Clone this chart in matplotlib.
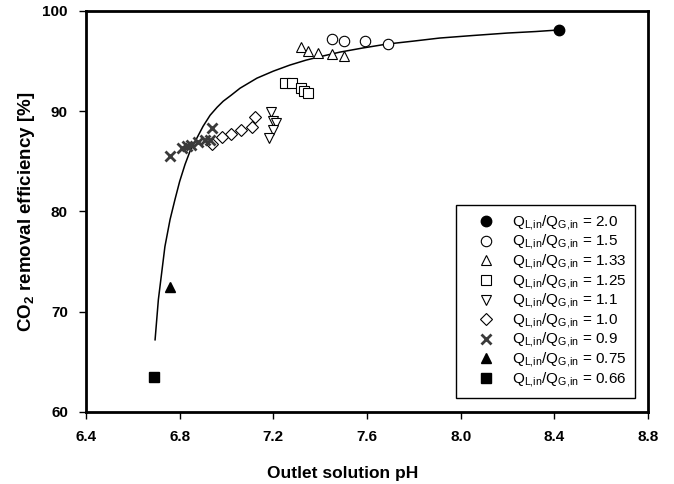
import numpy as np
import matplotlib.pyplot as plt

plt.rcParams['font.family'] = ['Liberation Sans', 'DejaVu Sans']
plt.rcParams['mathtext.fontset'] = 'custom'
plt.rcParams['mathtext.rm'] = 'Liberation Sans'
plt.rcParams['mathtext.bf'] = 'Liberation Sans:bold'

# dados
ph_20 = [8.42]
ef_20 = [98.1]
ph_15 = [7.45, 7.50, 7.59, 7.69]
ef_15 = [97.2, 97.0, 97.0, 96.7]
ph_133 = [7.32, 7.35, 7.39, 7.45, 7.50]
ef_133 = [96.4, 96.0, 95.8, 95.7, 95.5]
ph_125 = [7.25, 7.28, 7.32, 7.33, 7.35]
ef_125 = [92.85, 92.8, 92.3, 92.05, 91.85]
ph_11 = [7.19, 7.20, 7.21, 7.20, 7.18]
ef_11 = [89.9, 89.0, 88.8, 88.1, 87.3]
ph_10 = [7.12, 7.11, 7.06, 7.02, 6.98, 6.94]
ef_10 = [89.4, 88.4, 88.1, 87.7, 87.4, 86.7]
ph_09 = [6.76, 6.81, 6.83, 6.85, 6.88, 6.91, 6.93, 6.94]
ef_09 = [85.5, 86.3, 86.5, 86.6, 86.9, 87.1, 87.1, 88.3]
ph_075 = [6.76]
ef_075 = [72.5]
ph_066 = [6.69]
ef_066 = [63.5]

# curva de ajuste (pontos lidos ao longo da linha)
ph_fit = [6.695, 6.709, 6.723, 6.737, 6.759, 6.780, 6.80, 6.823, 6.844, 6.873,
          6.90, 6.93, 6.96, 6.986, 7.02, 7.058, 7.13, 7.20, 7.27, 7.34,
          7.41, 7.485, 7.58, 7.685, 7.80, 7.91, 8.05, 8.20, 8.32, 8.415]
ef_fit = [67.2, 71.2, 73.85, 76.5, 79.2, 81.2, 83.0, 84.7, 86.0, 87.3,
          88.5, 89.6, 90.4, 91.0, 91.6, 92.3, 93.3, 94.0, 94.6, 95.1,
          95.5, 95.9, 96.3, 96.7, 97.0, 97.3, 97.55, 97.8, 97.95, 98.1]

fig = plt.figure(figsize=(6.74, 4.84), dpi=100)
ax = fig.add_axes([0.1276, 0.1488, 0.8338, 0.8285])

ax.plot(ph_fit, ef_fit, color='black', lw=1.1, zorder=1)

lab = r'Q$_{\mathrm{L{,}in}}$/Q$_{\mathrm{G{,}in}}$ = '
ms = 7.5
ax.plot(ph_20, ef_20, 'o', ms=ms, mfc='black', mec='black', label=lab + '2.0')
ax.plot(ph_15, ef_15, 'o', ms=ms, mfc='white', mec='black', mew=0.8, label=lab + '1.5')
ax.plot(ph_133, ef_133, '^', ms=ms, mfc='white', mec='black', mew=0.8, label=lab + '1.33')
ax.plot(ph_125, ef_125, 's', ms=ms - 0.5, mfc='white', mec='black', mew=0.8, label=lab + '1.25')
ax.plot(ph_11, ef_11, 'v', ms=ms, mfc='white', mec='black', mew=0.8, label=lab + '1.1')
ax.plot(ph_10, ef_10, 'D', ms=ms - 1, mfc='white', mec='black', mew=0.8, label=lab + '1.0')
ax.plot(ph_09, ef_09, 'x', ms=ms - 0.5, mec='#3a3a3a', mew=2.0, label=lab + '0.9')
ax.plot(ph_075, ef_075, '^', ms=ms, mfc='black', mec='black', label=lab + '0.75')
ax.plot(ph_066, ef_066, 's', ms=ms - 0.5, mfc='black', mec='black', label=lab + '0.66')

ax.set_xlim(6.4, 8.8)
ax.set_ylim(60, 100)
ax.set_xticks(np.arange(6.4, 8.81, 0.4))
ax.set_yticks([60, 70, 80, 90, 100])
ax.set_xticklabels(['6.4', '6.8', '7.2', '7.6', '8.0', '8.4', '8.8'])
for s in ax.spines.values():
    s.set_linewidth(2)
ax.tick_params(direction='out', length=5, width=1, labelsize=11, pad=8)
for t in ax.get_xticklabels() + ax.get_yticklabels():
    t.set_fontweight('bold')

ax.set_xlabel('Outlet solution pH', fontsize=12.5, fontweight='bold')
ax.xaxis.set_label_coords(0.457, -0.135)
ax.set_ylabel(r'CO$_\mathbf{2}$ removal efficiency [%]', fontsize=13.5, fontweight='bold', labelpad=4)

leg = ax.legend(loc='lower right', bbox_to_anchor=(0.977, 0.035), fontsize=11,
                frameon=True, fancybox=False, edgecolor='black', framealpha=1,
                handlelength=2.9, handletextpad=0.25, labelspacing=0.02,
                borderpad=0.55, borderaxespad=0, numpoints=1)
leg.get_frame().set_linewidth(1)

plt.savefig('out.png', dpi=100)
